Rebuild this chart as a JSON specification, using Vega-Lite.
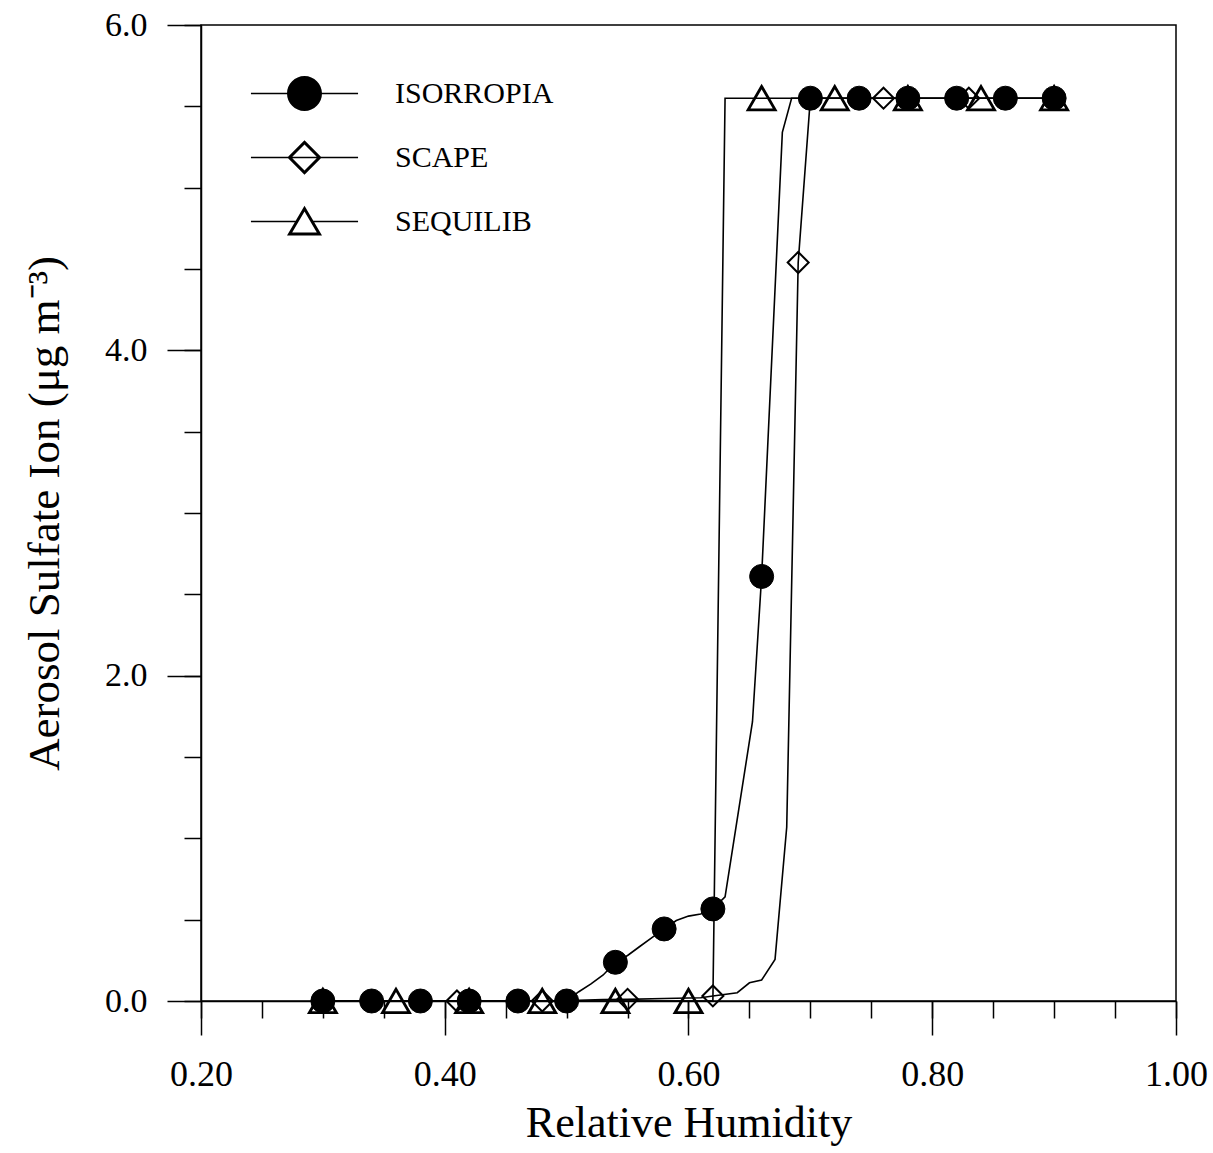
{
  "$schema": "https://vega.github.io/schema/vega-lite/v6.json",
  "width": 975,
  "height": 976,
  "autosize": {"type": "none"},
  "padding": {"left": 201, "top": 25, "right": 37, "bottom": 152},
  "background": "white",
  "config": {
    "view": {"stroke": "black", "strokeWidth": 1.5},
    "font": "Liberation Serif",
    "axis": {"grid": false, "domainColor": "black", "tickColor": "black", "labelColor": "black", "titleColor": "black", "domainWidth": 1.5, "tickWidth": 1.5, "labelFont": "Liberation Serif", "titleFont": "Liberation Serif", "titleFontWeight": "normal", "labelFlush": false, "labelOverlap": false}
  },
  "datasets": {
    "lines": [
      {"model": "ISORROPIA", "rh": 0.30, "so4": 0},
      {"model": "ISORROPIA", "rh": 0.34, "so4": 0},
      {"model": "ISORROPIA", "rh": 0.38, "so4": 0},
      {"model": "ISORROPIA", "rh": 0.42, "so4": 0},
      {"model": "ISORROPIA", "rh": 0.46, "so4": 0},
      {"model": "ISORROPIA", "rh": 0.50, "so4": 0},
      {"model": "ISORROPIA", "rh": 0.51, "so4": 0.057},
      {"model": "ISORROPIA", "rh": 0.52, "so4": 0.105},
      {"model": "ISORROPIA", "rh": 0.53, "so4": 0.16},
      {"model": "ISORROPIA", "rh": 0.54, "so4": 0.238},
      {"model": "ISORROPIA", "rh": 0.55, "so4": 0.28},
      {"model": "ISORROPIA", "rh": 0.56, "so4": 0.335},
      {"model": "ISORROPIA", "rh": 0.57, "so4": 0.39},
      {"model": "ISORROPIA", "rh": 0.58, "so4": 0.443},
      {"model": "ISORROPIA", "rh": 0.59, "so4": 0.495},
      {"model": "ISORROPIA", "rh": 0.60, "so4": 0.522},
      {"model": "ISORROPIA", "rh": 0.61, "so4": 0.535},
      {"model": "ISORROPIA", "rh": 0.62, "so4": 0.566},
      {"model": "ISORROPIA", "rh": 0.63, "so4": 0.64},
      {"model": "ISORROPIA", "rh": 0.6525, "so4": 1.717},
      {"model": "ISORROPIA", "rh": 0.66, "so4": 2.61},
      {"model": "ISORROPIA", "rh": 0.677, "so4": 5.34},
      {"model": "ISORROPIA", "rh": 0.6846, "so4": 5.55},
      {"model": "ISORROPIA", "rh": 0.70, "so4": 5.55},
      {"model": "ISORROPIA", "rh": 0.74, "so4": 5.55},
      {"model": "ISORROPIA", "rh": 0.78, "so4": 5.55},
      {"model": "ISORROPIA", "rh": 0.82, "so4": 5.55},
      {"model": "ISORROPIA", "rh": 0.86, "so4": 5.55},
      {"model": "ISORROPIA", "rh": 0.90, "so4": 5.55},
      {"model": "SCAPE", "rh": 0.30, "so4": 0},
      {"model": "SCAPE", "rh": 0.34, "so4": 0},
      {"model": "SCAPE", "rh": 0.41, "so4": 0},
      {"model": "SCAPE", "rh": 0.48, "so4": 0},
      {"model": "SCAPE", "rh": 0.50, "so4": 0},
      {"model": "SCAPE", "rh": 0.51, "so4": 0.005},
      {"model": "SCAPE", "rh": 0.53, "so4": 0.009},
      {"model": "SCAPE", "rh": 0.55, "so4": 0.01},
      {"model": "SCAPE", "rh": 0.58, "so4": 0.015},
      {"model": "SCAPE", "rh": 0.61, "so4": 0.02},
      {"model": "SCAPE", "rh": 0.62, "so4": 0.031},
      {"model": "SCAPE", "rh": 0.64, "so4": 0.051},
      {"model": "SCAPE", "rh": 0.65, "so4": 0.112},
      {"model": "SCAPE", "rh": 0.66, "so4": 0.129},
      {"model": "SCAPE", "rh": 0.671, "so4": 0.256},
      {"model": "SCAPE", "rh": 0.6806, "so4": 1.07},
      {"model": "SCAPE", "rh": 0.69, "so4": 4.54},
      {"model": "SCAPE", "rh": 0.70, "so4": 5.55},
      {"model": "SCAPE", "rh": 0.76, "so4": 5.55},
      {"model": "SCAPE", "rh": 0.83, "so4": 5.55},
      {"model": "SCAPE", "rh": 0.90, "so4": 5.55},
      {"model": "SEQUILIB", "rh": 0.30, "so4": 0},
      {"model": "SEQUILIB", "rh": 0.36, "so4": 0},
      {"model": "SEQUILIB", "rh": 0.42, "so4": 0},
      {"model": "SEQUILIB", "rh": 0.48, "so4": 0},
      {"model": "SEQUILIB", "rh": 0.54, "so4": 0},
      {"model": "SEQUILIB", "rh": 0.60, "so4": 0},
      {"model": "SEQUILIB", "rh": 0.62, "so4": 0},
      {"model": "SEQUILIB", "rh": 0.63, "so4": 5.55},
      {"model": "SEQUILIB", "rh": 0.66, "so4": 5.55},
      {"model": "SEQUILIB", "rh": 0.72, "so4": 5.55},
      {"model": "SEQUILIB", "rh": 0.78, "so4": 5.55},
      {"model": "SEQUILIB", "rh": 0.84, "so4": 5.55},
      {"model": "SEQUILIB", "rh": 0.90, "so4": 5.55}
    ],
    "markers": [
      {"model": "SCAPE", "rh": 0.34, "so4": 0},
      {"model": "SCAPE", "rh": 0.41, "so4": 0},
      {"model": "SCAPE", "rh": 0.48, "so4": 0},
      {"model": "SCAPE", "rh": 0.55, "so4": 0.01},
      {"model": "SCAPE", "rh": 0.62, "so4": 0.031},
      {"model": "SCAPE", "rh": 0.69, "so4": 4.54},
      {"model": "SCAPE", "rh": 0.76, "so4": 5.55},
      {"model": "SCAPE", "rh": 0.83, "so4": 5.55},
      {"model": "SCAPE", "rh": 0.90, "so4": 5.55},
      {"model": "SEQUILIB", "rh": 0.30, "so4": 0},
      {"model": "SEQUILIB", "rh": 0.36, "so4": 0},
      {"model": "SEQUILIB", "rh": 0.42, "so4": 0},
      {"model": "SEQUILIB", "rh": 0.48, "so4": 0},
      {"model": "SEQUILIB", "rh": 0.54, "so4": 0},
      {"model": "SEQUILIB", "rh": 0.60, "so4": 0},
      {"model": "SEQUILIB", "rh": 0.66, "so4": 5.55},
      {"model": "SEQUILIB", "rh": 0.72, "so4": 5.55},
      {"model": "SEQUILIB", "rh": 0.78, "so4": 5.55},
      {"model": "SEQUILIB", "rh": 0.84, "so4": 5.55},
      {"model": "SEQUILIB", "rh": 0.90, "so4": 5.55},
      {"model": "ISORROPIA", "rh": 0.30, "so4": 0},
      {"model": "ISORROPIA", "rh": 0.34, "so4": 0},
      {"model": "ISORROPIA", "rh": 0.38, "so4": 0},
      {"model": "ISORROPIA", "rh": 0.42, "so4": 0},
      {"model": "ISORROPIA", "rh": 0.46, "so4": 0},
      {"model": "ISORROPIA", "rh": 0.50, "so4": 0},
      {"model": "ISORROPIA", "rh": 0.54, "so4": 0.238},
      {"model": "ISORROPIA", "rh": 0.58, "so4": 0.443},
      {"model": "ISORROPIA", "rh": 0.62, "so4": 0.566},
      {"model": "ISORROPIA", "rh": 0.66, "so4": 2.61},
      {"model": "ISORROPIA", "rh": 0.70, "so4": 5.55},
      {"model": "ISORROPIA", "rh": 0.74, "so4": 5.55},
      {"model": "ISORROPIA", "rh": 0.78, "so4": 5.55},
      {"model": "ISORROPIA", "rh": 0.82, "so4": 5.55},
      {"model": "ISORROPIA", "rh": 0.86, "so4": 5.55},
      {"model": "ISORROPIA", "rh": 0.90, "so4": 5.55}
    ]
  },
  "resolve": {
    "axis": {"x": "independent", "y": "independent"}
  },
  "layer": [
    {
      "data": {"name": "lines"},
      "mark": {"type": "line", "color": "black", "strokeWidth": 1.6},
      "encoding": {
        "x": {"field": "rh", "type": "quantitative", "scale": {"domain": [0.2, 1.0], "nice": false, "zero": false},
          "axis": {"orient": "bottom", "values": [0.2, 0.4, 0.6, 0.8, 1.0], "format": ".2f", "tickSize": 34, "labelFontSize": 36, "labelPadding": 22, "title": "Relative Humidity", "titleFontSize": 44, "titlePadding": 9}},
        "y": {"field": "so4", "type": "quantitative", "scale": {"domain": [0, 6], "nice": false, "zero": true},
          "axis": {"orient": "left", "values": [0, 2, 4, 6], "format": ".1f", "tickSize": 34, "labelFontSize": 34, "labelPadding": 20, "title": "Aerosol Sulfate Ion (μg m⁻³)", "titleFontSize": 45, "titlePadding": 37}},
        "detail": {"field": "model", "type": "nominal"}
      }
    },
    {
      "data": {"name": "markers"},
      "transform": [{"filter": "datum.model === 'SCAPE'"}],
      "mark": {"type": "point", "shape": "diamond", "size": 441, "filled": false, "stroke": "black", "strokeWidth": 2, "opacity": 1},
      "encoding": {
        "x": {"field": "rh", "type": "quantitative",
          "axis": {"orient": "bottom", "values": [0.2, 0.25, 0.3, 0.35, 0.4, 0.45, 0.5, 0.55, 0.6, 0.65, 0.7, 0.75, 0.8, 0.85, 0.9, 0.95, 1.0], "tickSize": 17, "labels": false, "domain": false, "title": null}},
        "y": {"field": "so4", "type": "quantitative",
          "axis": {"orient": "left", "values": [0, 0.5, 1, 1.5, 2, 2.5, 3, 3.5, 4, 4.5, 5, 5.5, 6], "tickSize": 17, "labels": false, "domain": false, "title": null}}
      }
    },
    {
      "data": {"name": "markers"},
      "transform": [{"filter": "datum.model === 'SEQUILIB'"}],
      "mark": {"type": "point", "shape": "triangle-up", "size": 729, "filled": false, "stroke": "black", "strokeWidth": 2.8, "opacity": 1},
      "encoding": {
        "x": {"field": "rh", "type": "quantitative", "axis": null},
        "y": {"field": "so4", "type": "quantitative", "axis": null}
      }
    },
    {
      "data": {"name": "markers"},
      "transform": [{"filter": "datum.model === 'ISORROPIA'"}],
      "mark": {"type": "point", "shape": "circle", "size": 576, "filled": true, "fill": "black", "stroke": "black", "strokeWidth": 1, "opacity": 1},
      "encoding": {
        "x": {"field": "rh", "type": "quantitative", "axis": null},
        "y": {"field": "so4", "type": "quantitative", "axis": null}
      }
    },
    {
      "data": {"name": "markers"},
      "transform": [{"filter": "datum.so4 > 100"}],
      "mark": {"type": "point", "filled": true, "color": "black", "size": 1225, "strokeWidth": 0, "opacity": 1},
      "encoding": {
        "x": {"field": "rh", "type": "quantitative", "axis": null},
        "y": {"field": "so4", "type": "quantitative", "axis": null},
        "shape": {"field": "model", "type": "nominal",
          "scale": {"domain": ["ISORROPIA", "SCAPE", "SEQUILIB"],
            "range": [
              "M-3.06,-0.045L3.06,-0.045L3.06,0.045L-3.06,0.045ZM1,0C1,0.552,0.552,1,0,1C-0.552,1,-1,0.552,-1,0C-1,-0.552,-0.552,-1,0,-1C0.552,-1,1,-0.552,1,0Z",
              "M-3.06,-0.045L3.06,-0.045L3.06,0.045L-3.06,0.045ZM0,-0.98L0.98,0L0,0.98L-0.98,0ZM0,-0.74L-0.74,0L0,0.74L0.74,0Z",
              "M-3.06,-0.045L-0.5,-0.045L-0.5,0.045L-3.06,0.045ZM0.5,-0.045L3.06,-0.045L3.06,0.045L0.5,0.045ZM0,-0.9L1,0.8L-1,0.8ZM0,-0.565L-0.703,0.63L0.703,0.63Z"
            ]},
          "legend": {"title": null, "orient": "none", "legendX": 86, "legendY": 51, "padding": 0, "symbolSize": 1225, "symbolStrokeWidth": 0, "symbolOffset": 0, "symbolFillColor": "black", "symbolOpacity": 1, "labelFont": "Liberation Serif", "labelFontSize": 30, "labelColor": "black", "labelOffset": 73, "rowPadding": 29, "labelLimit": 400,
            "encode": {"symbols": {"update": {"fill": {"value": "black"}, "opacity": {"value": 1}}}}}
        }
      }
    }
  ]
}
